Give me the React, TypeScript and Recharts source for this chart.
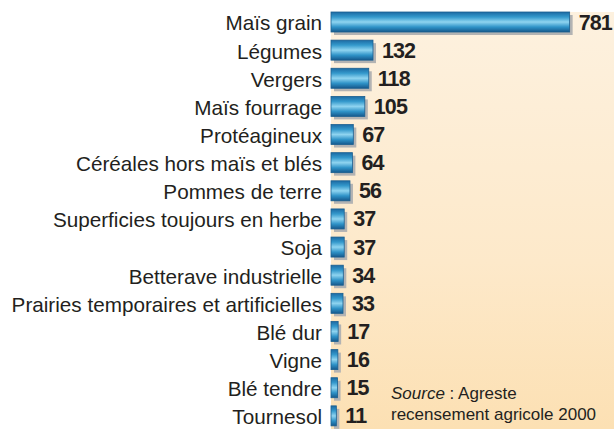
import React from "react";
import { BarChart, Bar, XAxis, YAxis, LabelList } from "recharts";

const categories = [
  "Maïs grain",
  "Légumes",
  "Vergers",
  "Maïs fourrage",
  "Protéagineux",
  "Céréales hors maïs et blés",
  "Pommes de terre",
  "Superficies toujours en herbe",
  "Soja",
  "Betterave industrielle",
  "Prairies temporaires et artificielles",
  "Blé dur",
  "Vigne",
  "Blé tendre",
  "Tournesol",
];
const values = [781, 132, 118, 105, 67, 64, 56, 37, 37, 34, 33, 17, 16, 15, 11];
const sourceLabel = "Source";
const sourceRest = " : Agreste";
const sourceLine2 = "recensement agricole 2000";

const data = categories.map((name, i) => ({ name, value: values[i] }));

const FONT = "'Liberation Sans', Arial, Helvetica, sans-serif";

const BarShape = (props: any) => {
  const { x, y, width, height } = props;
  const w = width + 2;
  return (
    <g>
      <rect x={x + 3} y={y + 3} width={w} height={height} fill="#b3b3b3" />
      <rect x={x} y={y} width={w} height={height} fill="url(#barGrad)" stroke="#1b5f90" strokeWidth={0.8} />
    </g>
  );
};

const ValueLabel = (props: any) => {
  const { x, y, width, height, value } = props;
  return (
    <text
      x={x + width + 11}
      y={y + height / 2 + 0.5}
      dominantBaseline="central"
      fontFamily={FONT}
      fontWeight="bold"
      fontSize={21.5}
      letterSpacing={-0.9}
      fill="#231f20"
    >
      {value}
    </text>
  );
};

export default function App() {
  return (
    <div
      style={{
        position: "absolute",
        left: 0,
        top: 0,
        width: 614,
        height: 429,
        overflow: "hidden",
        background: "#ffffff",
      }}
    >
      <div
        style={{
          position: "absolute",
          left: 331,
          top: 12,
          width: 283,
          height: 417,
          background: "linear-gradient(to bottom, #fdf1df 0%, #fde9ca 60%, #fce0b3 100%)",
        }}
      />
      <div style={{ position: "absolute", left: 0, top: 0 }}>
        <BarChart
          width={614}
          height={430}
          data={data}
          layout="vertical"
          margin={{ top: 8, right: 0, bottom: 0, left: 0 }}
          barCategoryGap={8}
        >
          <defs>
            <linearGradient id="barGrad" x1="0" y1="0" x2="0" y2="1">
              <stop offset="0%" stopColor="#1c6aa3" />
              <stop offset="25%" stopColor="#3499cc" />
              <stop offset="50%" stopColor="#8fd4f0" />
              <stop offset="75%" stopColor="#2f93c8" />
              <stop offset="100%" stopColor="#15588c" />
            </linearGradient>
          </defs>
          <XAxis type="number" domain={[0, 934]} hide />
          <YAxis
            type="category"
            dataKey="name"
            width={331}
            axisLine={false}
            tickLine={false}
            tickSize={0}
            tickMargin={9}
            interval={0}
            tick={{ fontSize: 20.7, fill: "#231f20", fontFamily: FONT, dy: 1 }}
          />
          <Bar dataKey="value" isAnimationActive={false} shape={<BarShape />} barSize={20}>
            <LabelList dataKey="value" content={<ValueLabel />} />
          </Bar>
        </BarChart>
      </div>
      <div
        style={{
          position: "absolute",
          left: 391,
          top: 383,
          fontFamily: FONT,
          fontSize: 17,
          lineHeight: "21px",
          color: "#231f20",
          whiteSpace: "nowrap",
        }}
      >
        <div>
          <i>{sourceLabel}</i>
          {sourceRest}
        </div>
        <div>{sourceLine2}</div>
      </div>
    </div>
  );
}
